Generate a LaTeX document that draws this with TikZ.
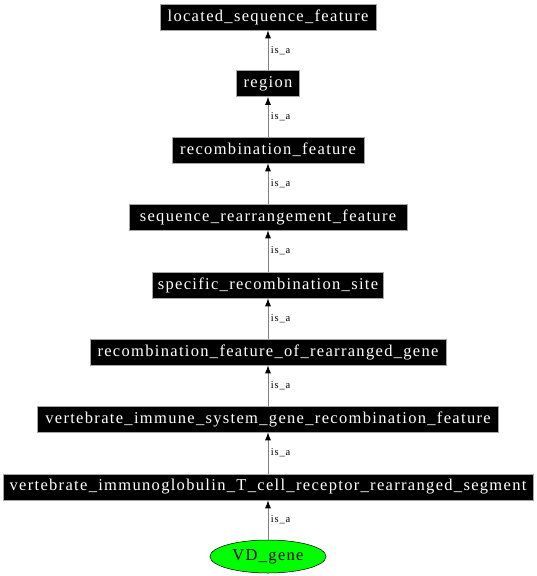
\documentclass[tikz,border=0pt]{standalone}
\usepackage{fontspec}
\setmainfont{Liberation Serif}[LetterSpace=8]
\usetikzlibrary{arrows.meta,shapes.geometric}
\begin{document}
\begin{tikzpicture}[x=1pt,y=1pt,
  term/.style={fill=black,draw=gray!70,line width=0.6pt,text=white,minimum height=26pt,inner sep=0pt,font=\fontsize{16.5}{18}\selectfont},
  leaf/.style={ellipse,fill=green,draw=black,line width=0.5pt,minimum width=116pt,minimum height=33pt,inner sep=0pt,font=\fontsize{16.5}{18}\selectfont},
  edge/.style={draw=gray,line width=0.9pt,-{Latex[black,length=8pt,width=6pt]}},
  lbl/.style={right,inner sep=2.5pt,font=\fontsize{10.5}{12}\selectfont}]
\useasboundingbox (0,0) rectangle (536,-576);
\node[term,minimum width=216pt] (n1) at (268,-17) {located\_sequence\_feature};
\node[term,minimum width=63pt] (n2) at (268,-83.5) {region};
\node[term,minimum width=192pt] (n3) at (268,-150) {recombination\_feature};
\node[term,minimum width=278pt] (n4) at (268,-217) {sequence\_rearrangement\_feature};
\node[term,minimum width=231pt] (n5) at (268,-285) {specific\_recombination\_site};
\node[term,minimum width=356pt] (n6) at (268,-352) {recombination\_feature\_of\_rearranged\_gene};
\node[term,minimum width=461pt] (n7) at (268,-419) {vertebrate\_immune\_system\_gene\_recombination\_feature};
\node[term,minimum width=530pt] (n8) at (268,-487) {vertebrate\_immunoglobulin\_T\_cell\_receptor\_rearranged\_segment};
\node[leaf] (n9) at (268,-556.5) {VD\_gene};
\draw[edge] (n2) -- node[lbl] {is\_a} (n1);
\draw[edge] (n3) -- node[lbl] {is\_a} (n2);
\draw[edge] (n4) -- node[lbl] {is\_a} (n3);
\draw[edge] (n5) -- node[lbl] {is\_a} (n4);
\draw[edge] (n6) -- node[lbl] {is\_a} (n5);
\draw[edge] (n7) -- node[lbl] {is\_a} (n6);
\draw[edge] (n8) -- node[lbl] {is\_a} (n7);
\draw[edge] (n9) -- node[lbl] {is\_a} (n8);
\end{tikzpicture}
\end{document}
